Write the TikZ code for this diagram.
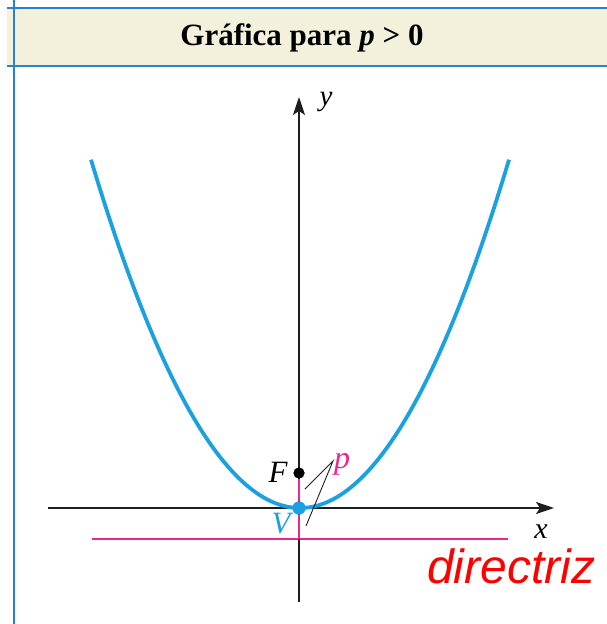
\documentclass[tikz,border=0pt]{standalone}
\usepackage{fontspec}
\setmainfont{Liberation Serif}
\newfontfamily\arialfont{Liberation Sans}
\usetikzlibrary{arrows.meta}
\definecolor{hdrfill}{RGB}{243,241,220}
\definecolor{hdrline}{RGB}{40,130,210}
\definecolor{parab}{RGB}{27,160,226}
\definecolor{magen}{RGB}{232,40,140}
\definecolor{axisgray}{RGB}{30,30,30}
\tikzset{
  axisline/.style={draw=axisgray,line width=1.6pt,-{Stealth[length=18pt,width=12pt,inset=4pt]}},
  lbl/.style={inner sep=0pt,font=\fontsize{31}{31}\selectfont\itshape},
  pointer/.style={draw=axisgray,line width=0.9pt}
}
\begin{document}
\begin{tikzpicture}[x=1pt,y=-1pt]
\useasboundingbox (0,0) rectangle (607,624);
% header
\fill[hdrfill] (7,8) rectangle (607,66);
\draw[hdrline,line width=1.5pt] (7,8) -- (607,8);
\draw[hdrline,line width=1.5pt] (7,66) -- (607,66);
\draw[hdrline,line width=1.5pt] (14,0) -- (14,624);
\node[inner sep=0pt,font=\fontsize{31}{31}\selectfont\bfseries] (title) at (302,38) {Gráfica para \textit{p} > 0};
% coordinates
\coordinate (xs) at (48,508);
\coordinate (xe) at (554,508);
\coordinate (ys) at (299,602);
\coordinate (ye) at (299,97);
\coordinate (ds) at (92,539);
\coordinate (de) at (508,539);
% directrix
\draw[magen,line width=1.6pt] (ds) -- (de);
% axes
\draw[axisline] (xs) -- (xe);
\draw[axisline] (ys) -- (ye);
% parabola
\draw[parab,line width=3.8pt] plot[domain=-209:209,samples=120] ({300+\x},{508-(0.0893*\x)^2});
% focus and vertex
\node[circle,fill=black,inner sep=0pt,minimum size=11pt] (F) at (299,473) {};
\node[circle,fill=parab,inner sep=0pt,minimum size=13pt] (V) at (299,508) {};
\coordinate (dirpt) at (299,539);
\draw[magen,line width=1.6pt] (F) -- (V);
\draw[magen,line width=1.6pt] (V) -- (dirpt);
\node[circle,fill=black,inner sep=0pt,minimum size=11pt] at (F) {};
\node[circle,fill=parab,inner sep=0pt,minimum size=13pt] at (V) {};
% labels
\node[lbl] (Fl) at (278,472) {F};
\node[lbl,text=parab] (Vl) at (281,524) {V};
\node[lbl,font=\fontsize{32}{32}\selectfont\itshape,text=magen] (pl) at (342,464) {p};
\node[lbl,font=\fontsize{30}{30}\selectfont\itshape] (xl) at (541,532) {x};
\node[lbl,font=\fontsize{29}{29}\selectfont\itshape] (yl) at (326,102) {y};
% pointer lines
\coordinate (pt) at (333,461);
\coordinate (p1) at (305,489);
\coordinate (p2) at (306,526);
\draw[pointer] (p1) -- (pt) -- (p2);
% directriz
\node[inner sep=0pt,anchor=south west,font=\arialfont\fontsize{48}{48}\selectfont\itshape,text=red] (dir) at (427,584) {directriz};
\end{tikzpicture}
\end{document}
